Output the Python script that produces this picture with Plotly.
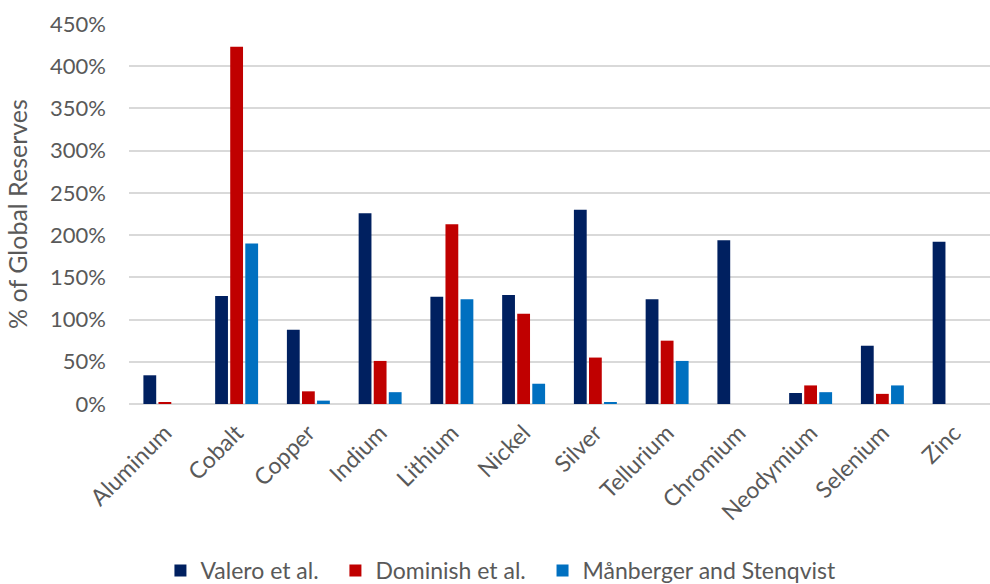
import plotly.graph_objects as go

categories = ["Aluminum", "Cobalt", "Copper", "Indium", "Lithium", "Nickel",
              "Silver", "Tellurium", "Chromium", "Neodymium", "Selenium", "Zinc"]
valero = [0.34, 1.28, 0.88, 2.26, 1.27, 1.29, 2.30, 1.24, 1.94, 0.13, 0.69, 1.92]
dominish = [0.02, 4.23, 0.15, 0.51, 2.13, 1.07, 0.55, 0.75, None, 0.22, 0.12, None]
manberger = [None, 1.90, 0.04, 0.14, 1.24, 0.24, 0.02, 0.51, None, 0.14, 0.22, None]
tick_vals = [0, 0.5, 1, 1.5, 2, 2.5, 3, 3.5, 4, 4.5]
series_names = ["Valero et al.", "Dominish et al.", "Månberger and Stenqvist"]

font_family = "Lato, Source Sans Pro, Noto Sans, sans-serif"
grey = "#595959"
pad = "\u00a0" * 2

fig = go.Figure()
for name, vals, color, suffix in [(series_names[0], valero, "#002060", pad),
                                  (series_names[1], dominish, "#C00000", pad),
                                  (series_names[2], manberger, "#0070C0", "")]:
    fig.add_trace(go.Bar(x=categories, y=vals, name=name + suffix, marker_color=color,
                         marker_line_width=0))

fig.update_layout(
    width=990, height=584,
    paper_bgcolor="white", plot_bgcolor="white",
    margin=dict(l=129, r=0, t=24, b=180, autoexpand=False),
    barmode="group", bargap=0.37, bargroupgap=0.15,
    font=dict(family=font_family, color=grey, size=22),
    legend=dict(orientation="h", xref="container", x=0.506, xanchor="center",
                y=-0.438, yanchor="middle",
                font=dict(size=23, color=grey), itemwidth=30,
                traceorder="normal"),
    showlegend=True,
)
fig.update_yaxes(range=[0, 4.5], tickvals=tick_vals, tickformat=".0%",
                 gridcolor="#D9D9D9", gridwidth=1.5, zeroline=True,
                 zerolinecolor="#D9D9D9", zerolinewidth=1.5,
                 title=dict(text="% of Global Reserves", font=dict(size=25, color=grey)),
                 tickfont=dict(size=22, color=grey), ticks="", showline=False,
                 ticklabelstandoff=22, automargin=False)
fig.update_xaxes(tickangle=-45, tickfont=dict(size=23, color=grey),
                 showline=False, ticks="", ticklabelstandoff=10, automargin=False)

fig.write_html("out.html", config={"displayModeBar": False},
               post_script="document.body.style.margin='0px';document.body.style.overflow='hidden';")
